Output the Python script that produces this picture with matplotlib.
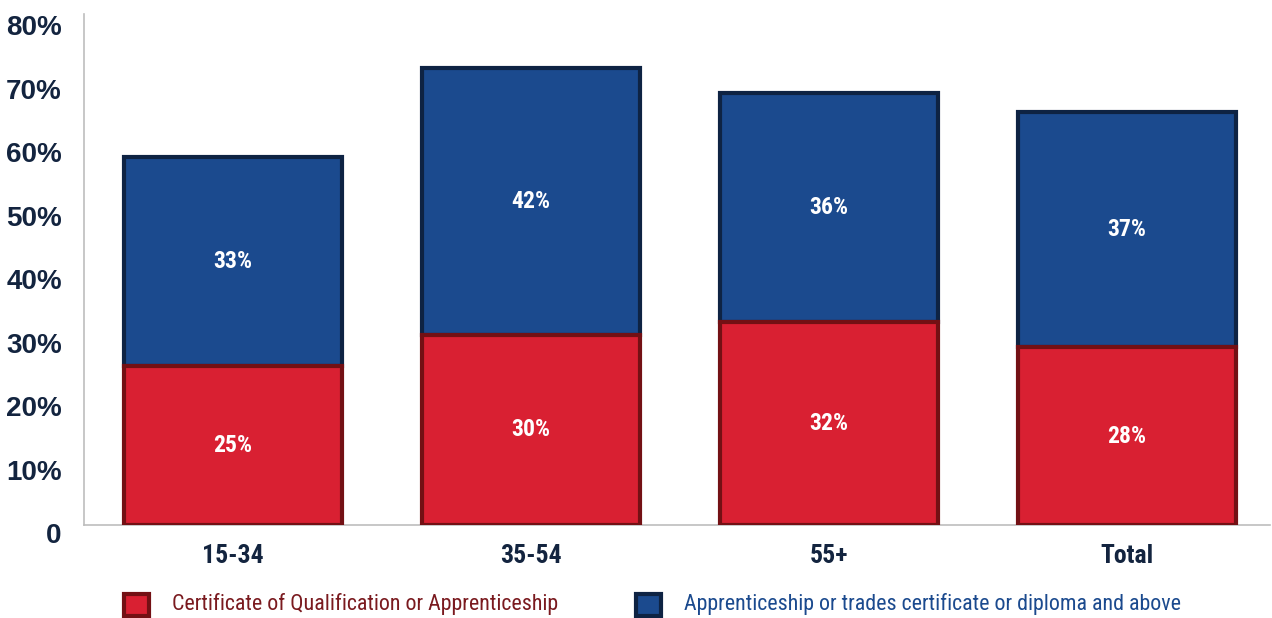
import matplotlib.pyplot as plt
import matplotlib.transforms as mtransforms
from matplotlib.patches import Rectangle

# data
groups = ["15-34", "35-54", "55+", "Total"]
cert_qual = [25, 30, 32, 28]
trades_cert = [33, 42, 36, 37]
series_names = ["Certificate of Qualification or Apprenticeship",
                "Apprenticeship or trades certificate or diploma and above"]
yticks = [0, 10, 20, 30, 40, 50, 60, 70, 80]
ytick_labels = ["0", "10%", "20%", "30%", "40%", "50%", "60%", "70%", "80%"]

red, red_edge = "#d92032", "#731014"
blue, blue_edge = "#1b4a8e", "#0e2343"
navy = "#13243f"
narrow = ["Roboto Condensed", "Liberation Sans Narrow", "Roboto", "DejaVu Sans"]

W, H = 1272, 618
fig = plt.figure(figsize=(W / 100, H / 100), dpi=100)
ax = fig.add_axes([84 / W, 1 - 525 / H, (1270 - 84) / W, (525 - 14) / H])

x = list(range(len(groups)))
bot = ax.bar(x, cert_qual, width=0.73, color=red, edgecolor=red_edge, linewidth=3, zorder=3)
top = ax.bar(x, trades_cert, width=0.73, bottom=cert_qual, color=blue,
             edgecolor=blue_edge, linewidth=3, zorder=2)

# value labels in the middle of each segment
for i in x:
    ax.text(i, cert_qual[i] / 2, f"{cert_qual[i]}%", ha="center", va="center",
            color="white", fontsize=17, fontweight="bold", family=narrow,
            fontstretch="condensed", zorder=4)
    ax.text(i, cert_qual[i] + trades_cert[i] / 2, f"{trades_cert[i]}%", ha="center",
            va="center", color="white", fontsize=17, fontweight="bold", family=narrow,
            fontstretch="condensed", zorder=4)

ax.set_xlim(-0.5, 3.48)
ax.set_ylim(0, 80.5)
ax.set_yticks(yticks)
ax.set_yticklabels(ytick_labels, fontsize=20, fontweight="bold", color=navy,
                   family=["Liberation Sans", "DejaVu Sans"])
ax.set_xticks(x)
ax.set_xticklabels(groups, fontsize=18.5, fontweight="bold", color=navy, family=narrow,
                   fontstretch="condensed")
ax.tick_params(axis="y", length=0, pad=16)
ax.tick_params(axis="x", length=0, pad=14)

# y labels sit a little below their gridline
shift = mtransforms.ScaledTranslation(0, -8 / 100, fig.dpi_scale_trans)
for lab in ax.get_yticklabels():
    lab.set_transform(lab.get_transform() + shift)

for s in ["top", "right"]:
    ax.spines[s].set_visible(False)
for s in ["left", "bottom"]:
    ax.spines[s].set_color("#bdbdbd")
    ax.spines[s].set_linewidth(1.2)

# legend
for (px, fc, ec, tc, name) in [(124, red, red_edge, "#7a1a1f", series_names[0]),
                               (636, blue, blue_edge, blue, series_names[1])]:
    fig.add_artist(Rectangle((px / W, 1 - 616 / H), 25 / W, 22 / H, facecolor=fc,
                             edgecolor=ec, linewidth=3, transform=fig.transFigure))
    fig.text((px + 48) / W, 1 - 604 / H, name, ha="left", va="center", color=tc,
             fontsize=15.8, family=narrow, fontstretch="condensed")

fig.savefig("out.png", dpi=100)
